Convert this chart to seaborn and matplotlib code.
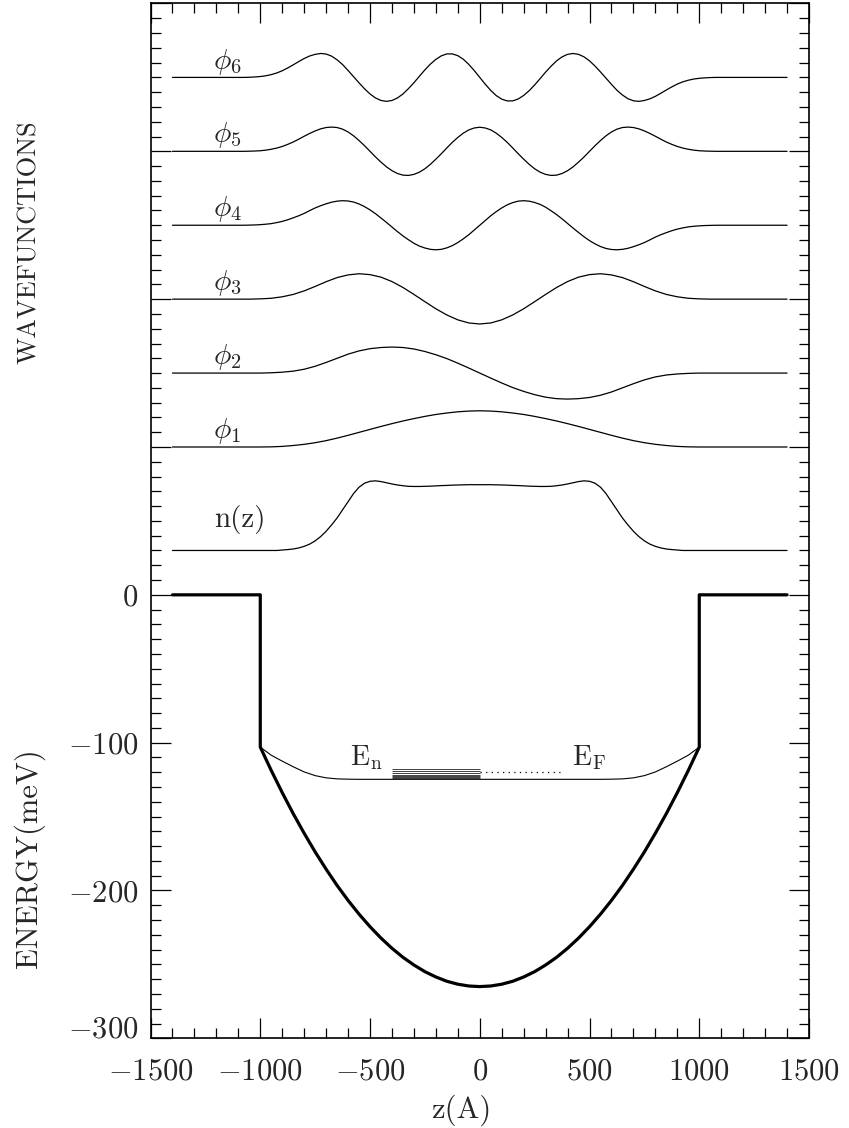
import numpy as np
import pandas as pd
import matplotlib
matplotlib.use("Agg")
import matplotlib.pyplot as plt
import matplotlib.transforms as mtransforms
from matplotlib.ticker import MultipleLocator, FixedLocator, FixedFormatter
import seaborn as sns

# ---------------------------------------------------------------- data
# position grids (Angstrom): 50 A spacing for the smooth low states,
# 25 A spacing for the faster-oscillating states and the density
z_coarse = np.arange(-1400, 1401, 50)
z_fine = np.arange(-1400, 1401, 25)

phi1 = [0, 0, 0, 0, 0, 0, 0, 0, 0, 0.1, 0.4, 1.0, 1.8, 2.9, 4.3, 6.0, 7.9, 9.9, 11.9, 13.9,
        15.8, 17.6, 19.2, 20.7, 22.0, 23.0, 23.8, 24.3, 24.5,
        24.3, 23.8, 23.0, 22.0, 20.7, 19.2, 17.6, 15.8, 13.9, 11.9, 9.9, 7.9, 6.0, 4.3, 2.9,
        1.8, 1.0, 0.4, 0.1, 0, 0, 0, 0, 0, 0, 0, 0, 0]
phi2 = [0, 0, 0, 0, 0, 0, 0, 0, 0, 0.2, 0.6, 1.3, 2.6, 4.6, 7.2, 10.0, 12.8, 15.0, 16.5, 17.3,
        17.6, 17.3, 16.3, 14.6, 12.4, 9.8, 6.7, 3.4, 0,
        -3.4, -6.7, -9.8, -12.4, -14.6, -16.3, -17.3, -17.6, -17.3, -16.5, -15.0, -12.8, -10.0,
        -7.2, -4.6, -2.6, -1.3, -0.6, -0.2, 0, 0, 0, 0, 0, 0, 0, 0, 0]
phi3 = [0, 0, 0, 0, 0, 0, 0, 0, 0.2, 0.6, 1.6, 3.2, 5.6, 8.6, 11.8, 14.6, 16.4, 17.2, 16.6,
        14.9, 11.9, 7.9, 3.2, -1.7, -6.5, -10.7, -14.0, -16.1, -16.8,
        -16.1, -14.0, -10.7, -6.5, -1.7, 3.2, 7.9, 11.9, 14.9, 16.6, 17.2, 16.4, 14.6, 11.8, 8.6,
        5.6, 3.2, 1.6, 0.6, 0.2, 0, 0, 0, 0, 0, 0, 0, 0]
phi4 = [0, 0, 0, 0, 0, 0, 0, 0, 0, 0, 0, 0, 0, 0,
        0.1, 0.2, 0.4, 0.7, 1.1, 1.8, 2.6, 3.7, 5.0, 6.4, 8.0, 9.9, 11.7, 13.2, 14.5, 15.6,
        16.3, 16.6, 16.4, 15.7, 14.4, 12.6, 10.4, 7.8, 4.9, 1.9, -1.2, -4.3, -7.2, -9.8,
        -12.2, -14.1, -15.4, -16.3, -16.6, -16.3, -15.3, -13.8, -11.7, -9.2, -6.4, -3.2, 0,
        3.2, 6.4, 9.2, 11.7, 13.8, 15.3, 16.3, 16.6, 16.3, 15.4, 14.1, 12.2, 9.8, 7.2, 4.3,
        1.2, -1.9, -4.9, -7.8, -10.4, -12.6, -14.4, -15.7, -16.4, -16.6, -16.3, -15.6, -14.5,
        -13.2, -11.7, -9.9, -8.0, -6.4, -5.0, -3.7, -2.6, -1.8, -1.1, -0.7, -0.4, -0.2, -0.1,
        0, 0, 0, 0, 0, 0, 0, 0, 0, 0, 0, 0, 0, 0]
phi5 = [0, 0, 0, 0, 0, 0, 0, 0, 0, 0, 0, 0, 0, 0,
        0.1, 0.2, 0.4, 0.8, 1.4, 2.2, 3.3, 4.7, 6.3, 8.2, 10.2, 12.1, 13.8, 15.2, 16.1, 16.4,
        16.1, 15.0, 13.1, 10.5, 7.3, 3.8, 0, -3.8, -7.3, -10.5, -13.1, -15.0, -16.1, -16.3,
        -15.6, -14.1, -11.8, -8.8, -5.3, -1.6, 2.3, 6.1, 9.4, 12.3, 14.5, 15.8, 16.3,
        15.8, 14.5, 12.3, 9.4, 6.1, 2.3, -1.6, -5.3, -8.8, -11.8, -14.1, -15.6, -16.3, -16.1,
        -15.0, -13.1, -10.5, -7.3, -3.8, 0, 3.8, 7.3, 10.5, 13.1, 15.0, 16.1, 16.4, 16.1, 15.2,
        13.8, 12.1, 10.2, 8.2, 6.3, 4.7, 3.3, 2.2, 1.4, 0.8, 0.4, 0.2, 0.1,
        0, 0, 0, 0, 0, 0, 0, 0, 0, 0, 0, 0, 0, 0]
phi6 = [0, 0, 0, 0, 0, 0, 0, 0, 0, 0, 0, 0, 0, 0,
        0.1, 0.3, 0.6, 1.1, 1.9, 3.0, 4.5, 6.4, 8.5, 10.7, 12.8, 14.5, 15.6, 16.2, 15.8, 14.4,
        11.9, 8.7, 4.7, 0.5, -3.7, -7.7, -11.2, -13.9, -15.6, -16.2, -15.6, -13.9, -11.2, -7.6,
        -3.6, 0.8, 5.1, 9.0, 12.2, 14.6, 15.9, 15.9, 14.7, 12.3, 8.8, 4.6, 0,
        -4.6, -8.8, -12.3, -14.7, -15.9, -15.9, -14.6, -12.2, -9.0, -5.1, -0.8, 3.6, 7.6, 11.2,
        13.9, 15.6, 16.2, 15.6, 13.9, 11.2, 7.7, 3.7, -0.5, -4.7, -8.7, -11.9, -14.4, -15.8,
        -16.2, -15.6, -14.5, -12.8, -10.7, -8.5, -6.4, -4.5, -3.0, -1.9, -1.1, -0.6, -0.3, -0.1,
        0, 0, 0, 0, 0, 0, 0, 0, 0, 0, 0, 0, 0, 0]
density = [0, 0, 0, 0, 0, 0, 0, 0, 0, 0, 0, 0, 0, 0, 0, 0, 0, 0, 0, 0,
           0.3, 0.6, 1.0, 1.7, 2.8, 4.3, 6.5, 9.4, 13.0, 17.3, 22.0, 27.5, 33.0, 38.5, 42.8,
           45.5, 46.8, 47.1, 46.6, 45.8, 45.0, 44.3, 43.8, 43.4, 43.3, 43.3, 43.4, 43.5, 43.7,
           43.9, 44.0, 44.2, 44.3, 44.4, 44.5, 44.5, 44.5,
           44.5, 44.5, 44.4, 44.3, 44.2, 44.0, 43.9, 43.7, 43.5, 43.4, 43.3, 43.3, 43.4, 43.8,
           44.3, 45.0, 45.8, 46.6, 47.1, 46.8, 45.5, 42.8, 38.5, 33.0, 27.5, 22.0, 17.3, 13.0,
           9.4, 6.5, 4.3, 2.8, 1.7, 1.0, 0.6, 0.3,
           0, 0, 0, 0, 0, 0, 0, 0, 0, 0, 0, 0, 0, 0, 0, 0, 0, 0, 0, 0]

wave_names = [r'$\phi_1$', r'$\phi_2$', r'$\phi_3$', r'$\phi_4$', r'$\phi_5$', r'$\phi_6$']
wave_values = [phi1, phi2, phi3, phi4, phi5, phi6]
wave_grids = [z_coarse, z_coarse, z_coarse, z_fine, z_fine, z_fine]
wave_offsets = [100, 150, 200, 250, 300, 350]
density_offset = 30

# bare confining potential (meV): barriers, then the parabolic well
pot_z = [-1400, -1000, -1000, -950, -900, -850, -800, -750, -700, -650, -600, -550, -500,
         -450, -400, -350, -300, -250, -200, -150, -100, -50, 0, 50, 100, 150, 200, 250,
         300, 350, 400, 450, 500, 550, 600, 650, 700, 750, 800, 850, 900, 950, 1000, 1000, 1400]
pot_E = [0, 0, -103.0, -118.8, -133.8, -148.0, -161.3, -173.9, -185.6, -196.6, -206.7, -216.0,
         -224.5, -232.2, -239.1, -245.2, -250.4, -254.9, -258.5, -261.4, -263.4, -264.6, -265.0,
         -264.6, -263.4, -261.4, -258.5, -254.9, -250.4, -245.2, -239.1, -232.2, -224.5,
         -216.0, -206.7, -196.6, -185.6, -173.9, -161.3, -148.0, -133.8, -118.8, -103.0, 0, 0]

# self-consistent potential inside the well (meV)
scf_z = np.arange(-1000, 1001, 50)
scf_E = [-103.0, -108.5, -112.5, -116.3, -119.8, -122.3, -123.8, -124.5, -124.7, -124.8,
         -124.8, -124.8, -124.8, -124.8, -124.8, -124.8, -124.8, -124.8, -124.8, -124.8,
         -124.8, -124.8, -124.8, -124.8, -124.8, -124.8, -124.8, -124.8, -124.8, -124.8,
         -124.8, -124.8, -124.7, -124.5, -123.8, -122.3, -119.8, -116.3, -112.5, -108.5, -103.0]

# subband energies and Fermi level (meV)
level_E = [-124.5, -124.1, -123.5, -122.7, -121.7, -120.5, -119.1, -117.6]
level_span = [-400, 0]
fermi_E = -120.0
fermi_span = [0, 380]

x_ticks = [-1500, -1000, -500, 0, 500, 1000, 1500]
x_ticklabels = [r'$-1500$', r'$-1000$', r'$-500$', r'$0$', r'$500$', r'$1000$', r'$1500$']
y_ticks = [-300, -200, -100, 0, 100, 200, 300, 400]
y_ticklabels = [r'$-300$', r'$-200$', r'$-100$', r'$0$', '', '', '', '']

# ---------------------------------------------------------------- style
sns.set_style("ticks")
plt.rcParams['font.family'] = ['cmr10', 'DejaVu Serif']
plt.rcParams['mathtext.fontset'] = 'cm'
plt.rcParams['axes.formatter.use_mathtext'] = True
plt.rcParams['axes.unicode_minus'] = False
plt.rcParams['lines.solid_joinstyle'] = 'round'

fig = plt.figure(figsize=(8.49, 11.28), dpi=100)
ax = fig.add_axes([0.1773, 0.0795, 0.7756, 0.9174])

# ---------------------------------------------------------------- curves
frames = []
for name, base, grid, vals in zip(wave_names, wave_offsets, wave_grids, wave_values):
    frames.append(pd.DataFrame({'z': grid, 'E': base + np.asarray(vals, float), 'curve': name}))
frames.append(pd.DataFrame({'z': z_fine, 'E': density_offset + np.asarray(density, float),
                            'curve': 'n(z)'}))
wave_df = pd.concat(frames, ignore_index=True)

sns.lineplot(data=wave_df, x='z', y='E', units='curve', estimator=None, color='black',
             lw=0.9, ax=ax, legend=False)

sns.lineplot(x=scf_z, y=scf_E, color='black', lw=0.8, ax=ax, estimator=None)
sns.lineplot(x=pot_z, y=pot_E, sort=False, estimator=None, color='black', lw=2.3, ax=ax)

ax.hlines(level_E, level_span[0], level_span[1], colors='#222222', lw=0.6)
ax.plot(fermi_span, [fermi_E, fermi_E], color='black', lw=0.9, ls=(0, (1, 3.5)))

# ---------------------------------------------------------------- labels in the plot
for name, base in zip(wave_names, wave_offsets):
    ax.text(-1215, base + 6, name, fontsize=21, ha='left', va='baseline')
ax.text(-1210, density_offset + 16, 'n(z)', fontsize=21, ha='left', va='baseline')
ax.text(-590, -115.5, r'$\mathrm{E}_\mathrm{n}$', fontsize=20, ha='left', va='baseline')
ax.text(420, -115.5, r'$\mathrm{E}_\mathrm{F}$', fontsize=20, ha='left', va='baseline')

# ---------------------------------------------------------------- axes
ax.set_xlim(-1500, 1500)
ax.set_ylim(-300, 400)
ax.xaxis.set_major_locator(FixedLocator(x_ticks))
ax.xaxis.set_major_formatter(FixedFormatter(x_ticklabels))
ax.xaxis.set_minor_locator(MultipleLocator(100))
ax.yaxis.set_major_locator(FixedLocator(y_ticks))
ax.yaxis.set_major_formatter(FixedFormatter(y_ticklabels))
ax.yaxis.set_minor_locator(MultipleLocator(10))
ax.tick_params(which='both', direction='in', top=True, right=True, color='black')
ax.tick_params(which='major', length=14.4, width=0.9, labelsize=22)
ax.tick_params(which='minor', length=7.2, width=0.9)
ax.tick_params(axis='x', which='major', pad=14)
ax.tick_params(axis='y', which='major', pad=9)
for sp in ax.spines.values():
    sp.set_linewidth(1.2)
    sp.set_color('black')
ax.set_xlabel('')
ax.set_ylabel('')

# lift the lowest energy label clear of the position labels
fig.canvas.draw()
lowest = ax.yaxis.get_majorticklabels()[0]
lowest.set_transform(lowest.get_transform() +
                     mtransforms.ScaledTranslation(0, 8 / 72, fig.dpi_scale_trans))

fig.text(461 / 849, 1 - 1110 / 1128, 'z(A)', fontsize=22, ha='center', va='center')
fig.text(29 / 849, 1 - 858 / 1128, 'ENERGY(meV)', fontsize=22, rotation=90,
         ha='center', va='center')
fig.text(29 / 849, 1 - 242 / 1128, 'WAVEFUNCTIONS', fontsize=19, rotation=90,
         ha='center', va='center')

fig.savefig('out.png', dpi=100)
